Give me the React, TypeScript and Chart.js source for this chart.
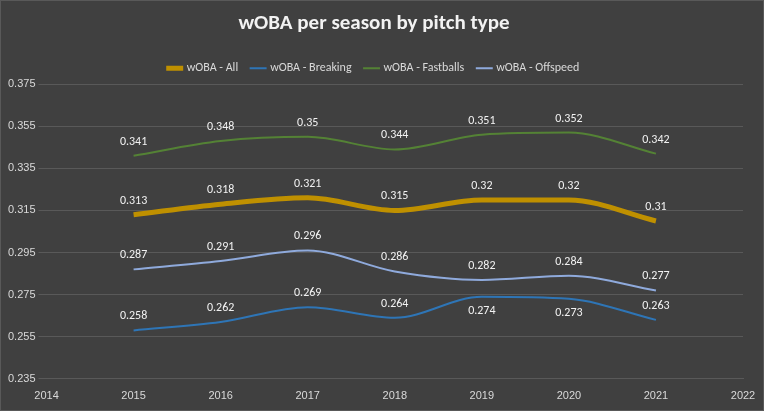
import React, { useEffect, useRef } from "react";
import { Chart, registerables } from "chart.js";
Chart.register(...registerables);

const years = [2015, 2016, 2017, 2018, 2019, 2020, 2021];
const wobaAll = [0.313, 0.318, 0.321, 0.315, 0.32, 0.32, 0.31];
const wobaBreaking = [0.258, 0.262, 0.269, 0.264, 0.274, 0.273, 0.263];
const wobaFastballs = [0.341, 0.348, 0.35, 0.344, 0.351, 0.352, 0.342];
const wobaOffspeed = [0.287, 0.291, 0.296, 0.286, 0.282, 0.284, 0.277];

const labelPlugin = {
  id: "labels",
  afterDatasetsDraw(chart: any) {
    const ctx = chart.ctx;
    ctx.save();
    ctx.font = "12px Calibri, 'Liberation Sans', Arial";
    ctx.fillStyle = "#f2f2f2";
    ctx.textAlign = "center";
    chart.data.datasets.forEach((ds: any, i: number) => {
      const meta = chart.getDatasetMeta(i);
      meta.data.forEach((pt: any, j: number) => {
        const below = i === 1 && (j === 4 || j === 5);
        ctx.textBaseline = below ? "top" : "bottom";
        const v = ds.data[j].y;
        ctx.fillText(String(+v.toFixed(3)), pt.x, below ? pt.y + 8 : pt.y - 8);
      });
    });
    ctx.restore();
  },
};

const mk = (label: string, vals: number[], color: string, width: number) => ({
  label,
  data: vals.map((v, i) => ({ x: years[i], y: v })),
  borderColor: color,
  backgroundColor: color,
  borderWidth: width,
  pointRadius: 0,
  tension: 0.4,
  cubicInterpolationMode: "monotone" as const,
});

export default function App() {
  const ref = useRef<HTMLCanvasElement>(null);
  useEffect(() => {
    document.body.style.margin = "0";
    const chart = new Chart(ref.current!, {
      type: "line",
      data: {
        datasets: [
          mk("wOBA - All", wobaAll, "#bf9000", 5),
          mk("wOBA - Breaking", wobaBreaking, "#2e75b6", 2),
          mk("wOBA - Fastballs", wobaFastballs, "#548235", 2),
          mk("wOBA - Offspeed", wobaOffspeed, "#8faadc", 2),
        ],
      },
      options: {
        animation: false,
        responsive: false,
        layout: { padding: { left: 4, right: 20, bottom: 4, top: 4 } },
        plugins: {
          title: {
            display: true,
            text: "wOBA per season by pitch type",
            color: "#f2f2f2",
            font: { size: 21, weight: "bold", family: "Calibri, 'Liberation Sans', Arial" },
            padding: { top: 6, bottom: 12 },
          },
          legend: {
            labels: {
              color: "#d9d9d9",
              usePointStyle: true,
              pointStyle: "line",
              boxWidth: 36,
              padding: 14,
              font: { size: 12, family: "Calibri, 'Liberation Sans', Arial" },
            },
          },
          tooltip: { enabled: false },
        },
        scales: {
          x: {
            type: "linear",
            min: 2014,
            max: 2022,
            ticks: { stepSize: 1, color: "#d9d9d9", font: { size: 11 }, callback: (v: any) => String(v) },
            grid: { display: false },
            border: { color: "#595959" },
          },
          y: {
            min: 0.235,
            max: 0.375,
            ticks: { stepSize: 0.02, color: "#d9d9d9", font: { size: 11 }, callback: (v: any) => Number(v).toFixed(3) },
            grid: { color: "#595959" },
            border: { display: false },
          },
        },
      },
      plugins: [labelPlugin],
    });
    return () => chart.destroy();
  }, []);
  return (
    <div style={{ width: 764, height: 411, background: "#404040", boxSizing: "border-box", border: "1px solid #595959" }}>
      <canvas ref={ref} width={762} height={409} />
    </div>
  );
}
